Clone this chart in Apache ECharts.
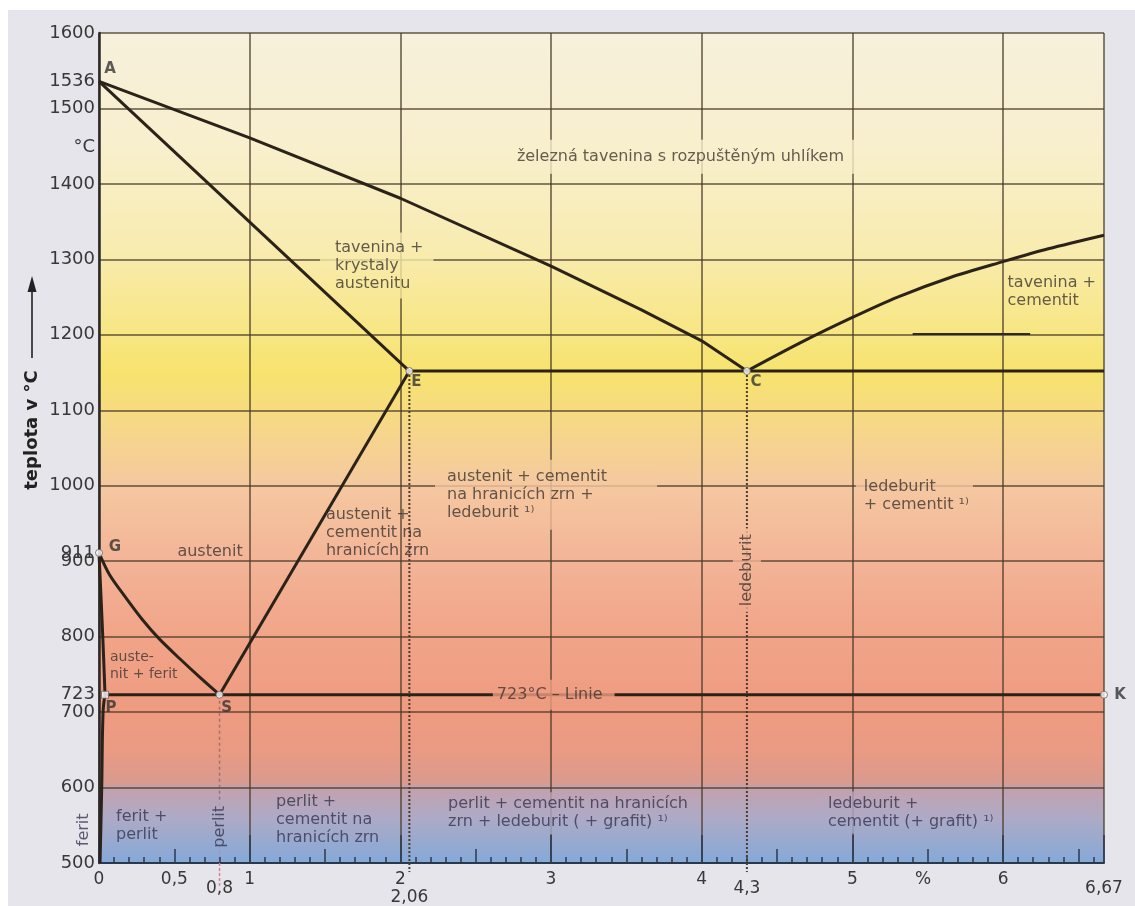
<!DOCTYPE html>
<html><head><meta charset="utf-8">
<script src="https://cdn.jsdelivr.net/npm/echarts@6.0.0/dist/echarts.min.js"></script>
<style>
html,body{margin:0;padding:0;background:#fff;width:1135px;height:906px;overflow:hidden}
#bg{position:absolute;left:8px;top:10px;width:1127px;height:896px;background:#e6e5ec}
#c{position:absolute;left:0;top:0;width:1135px;height:906px}
</style></head><body><div id="bg"></div><div id="c"></div>
<script>
// ---------------- DATA ----------------
const yTickValues = [500,600,700,723,800,900,911,1000,1100,1200,1300,1400,1500,1536,1600];
const yUnitPos = 1449;              // where "°C" sits on the temperature axis
const xLabelsRow1 = [0,0.5,1,2,3,4,5,6];
const xPercentPos = 5.47;           // where "%" sits on the carbon axis
const xLabelsRow2 = [0.8,4.3,6.67];
const xLabelsRow3 = [2.06];

const liquidusAC = [[0,1536],[1,1461],[2,1381],[3,1291],[3.6,1233],[4,1192],[4.3,1152]];
const solidusAE  = [[0,1536],[2.06,1152]];
const lineES     = [[0.8,723],[2.06,1152]];
const lineGS     = [[0,911],[0.07,882],[0.18,851],[0.29,822],[0.4,797],[0.54,770],[0.67,746],[0.8,723]];
const lineGP     = [[0,911],[0.025,800],[0.04,723]];
const linePQ     = [[0.04,723],[0.027,700],[0.018,600],[0.007,500]];
const lineECF    = [[2.06,1152],[6.67,1152]];
const lineCD     = [[4.3,1152],[4.65,1189],[5.0,1223],[5.3,1250],[5.65,1276],[6.0,1297],[6.3,1314],[6.67,1332]];
const linePSK    = [[0.04,723],[6.67,723]];
const strayLine  = [[5.40,1201],[6.18,1201]];
const dashE      = [[2.06,1152],[2.06,488]];
const dashC      = [[4.3,1152],[4.3,488]];
const dashS      = [[0.8,723],[0.8,500]];
const dashSBelow = [[0.8,500],[0.8,470]];

const pointMarks = [['G',0,911],['E',2.06,1152],['C',4.3,1152],['S',0.8,723],['K',6.67,723]];
const pointSquare = [['P',0.04,723]];
const pointNames = [['A',0,1536],['G',0,911],['E',2.06,1152],['C',4.3,1152],['P',0.04,723],['S',0.8,723],['K',6.67,723]];

const regionLabels = [
  ['železná tavenina s rozpuštěným uhlíkem', 2.707, 1436],
  ['tavenina +\nkrystaly\naustenitu', 1.467, 1292],
  ['tavenina +\ncementit', 6.03, 1257],
  ['austenit + cementit\nna hranicích zrn +\nledeburit ¹⁾', 2.23, 988],
  ['ledeburit\n+ cementit ¹⁾', 5.023, 986],
  ['austenit +\ncementit na\nhranicích zrn', 1.506, 937],
  ['austenit', 0.737, 912],
  ['auste-\nnit + ferit', 0.073, 761],
  ['ferit +\nperlit', 0.113, 549],
  ['perlit +\ncementit na\nhranicích zrn', 1.175, 557],
  ['perlit + cementit na hranicích\nzrn + ledeburit ( + grafit) ¹⁾', 2.263, 566],
  ['ledeburit +\ncementit (+ grafit) ¹⁾', 4.798, 567],
  ['ledeburit', 4.3, 888],
  ['perlit', 0.8, 548],
  ['ferit', -0.1, 544]
];
const lineLabel = ['723°C – Linie', 2.614, 723];

// ---------------- STYLE ----------------
const FONT = '"DejaVu Sans", sans-serif';
const PX_PER_DEG = 830 / 1100;
const bgStops = [
  [1600,'#f7f0dc'],[1450,'#f8efcd'],[1320,'#f8ecb2'],[1220,'#f8e78a'],[1150,'#f7e36e'],
  [1080,'#f6d888'],[1000,'#f5c8a0'],[900,'#f3b497'],[800,'#f1a488'],[700,'#ee9b80'],
  [650,'#ea9a83'],[606,'#d99a8f'],[600,'#c3a1ae'],[560,'#aeaac6'],[500,'#84a9d8']
];
const TXT = '#3f3632', TXT_B = '#363650';
const labelStyles = [
  {align:'left', pad:[8,14,8,10], box:true},
  {align:'left', pad:[6,10,6,15], box:true},
  {align:'left'},
  {align:'left', pad:[8,50,8,12], box:true},
  {align:'left', pad:[3,4,3,8], box:true},
  {align:'left'},
  {align:'center'},
  {align:'left', size:14, lh:17},
  {align:'left', color:TXT_B},
  {align:'left', color:TXT_B},
  {align:'left', pad:[3,8,3,8], box:true, color:TXT_B},
  {align:'left', pad:[3,8,3,6], box:true, color:TXT_B},
  {align:'center', rot:90, pad:[5,6], box:true},
  {align:'center', rot:90, pad:[4,6], box:true, color:TXT_B},
  {align:'center', rot:90, color:TXT_B}
];
const lineLabelStyle = {align:'left', pad:[6,12,6,4], box:true};
const nameOffsets = {A:[11,-12],G:[16,-6],E:[7,11],C:[9,11],P:[6,13],S:[7,13],K:[16,0]};

function hex2rgb(h){ h=h.replace('#',''); return [0,2,4].map(i=>parseInt(h.substr(i,2),16)); }
function mix(a,b,f){ const A=hex2rgb(a),B=hex2rgb(b); return 'rgb('+A.map((v,i)=>Math.round(v+(B[i]-v)*f)).join(',')+')'; }
function colorAt(t){
  for(let i=0;i<bgStops.length-1;i++){
    const [t0,c0]=bgStops[i],[t1,c1]=bgStops[i+1];
    if(t<=t0 && t>=t1){ return mix(c0,c1,t0===t1?0:(t0-t)/(t0-t1)); }
  }
  return t>1600?bgStops[0][1]:bgStops[bgStops.length-1][1];
}
const measureCtx = document.createElement('canvas').getContext('2d');
function textWidth(s,size){ measureCtx.font = size+'px '+FONT; return Math.max(...s.split('\n').map(l=>measureCtx.measureText(l).width)); }
function boxFill(t,hpx,rot){
  const half=hpx/2/PX_PER_DEG, tTop=t+half, tBot=t-half, stops=[];
  for(let i=0;i<=8;i++){ const f=i/8; stops.push({offset:f,color:colorAt(rot? tBot+(tTop-tBot)*f : tTop-(tTop-tBot)*f)}); }
  return {type:'linear',x:0,y:0,x2:rot?1:0,y2:rot?0:1,colorStops:stops,global:false};
}
function makeLabelItem(r, st){
  const size = st.size||16, lh = st.lh||18, lines = r[0].split('\n').length;
  const lbl = {show:true, position:[0,0], align:st.align, verticalAlign:'middle', formatter:r[0],
    fontFamily:FONT, fontSize:size, lineHeight:lh, color:st.color||TXT};
  if(st.rot) lbl.rotate = st.rot;
  if(st.pad) lbl.padding = st.pad;
  if(st.box){
    const p = st.pad.length===2?[st.pad[0],st.pad[1],st.pad[0],st.pad[1]]:st.pad;
    const h = st.rot ? textWidth(r[0],size)+p[1]+p[3] : lines*lh+p[0]+p[2];
    lbl.backgroundColor = boxFill(r[2], h, !!st.rot);
  }
  return {value:[r[1],r[2]], label:lbl};
}

const lineColor = '#2b2319';
function phase(data, smooth, extra){
  return Object.assign({type:'line', data, symbol:'none', smooth: smooth||false,
    lineStyle:{color:lineColor, width:3}, z:4, silent:true, clip:false, animation:false}, extra||{});
}
function dashed(data, color, width, dash){
  return {type:'line', data, symbol:'none', lineStyle:{color, width, type:dash}, z:2, silent:true, clip:false, animation:false};
}

const minorTicks=[], halfTicks=[], intTicks=[];
for(let i=0;i<=66;i++){ const v=i/10; if(i%5!==0) minorTicks.push(+v.toFixed(1)); else if(i%10!==0) halfTicks.push(+v.toFixed(1)); else intTicks.push(v); }
intTicks.push(6.67);

const fmtX = v => v===xPercentPos ? '%' : String(v).replace('.',',');
const axisTxt = {fontFamily:FONT, fontSize:17, color:'#383838'};
const tickColor = '#2c3850';
const gridColor = 'rgba(70,56,38,0.85)';
function xAxisBase(extra){
  return Object.assign({type:'value', min:0, max:6.67, position:'bottom', gridIndex:0,
    axisLine:{show:false}, splitLine:{show:false}}, extra);
}

const option = {
  animation:false,
  grid:{left:99, top:33, width:1005, height:830, show:true, borderWidth:0, outerBoundsMode:'none',
    backgroundColor:{type:'linear',x:0,y:0,x2:0,y2:1,
      colorStops:bgStops.map(([t,c])=>({offset:(1600-t)/1100,color:c}))}},
  xAxis:[
    xAxisBase({interval:1, axisLine:{show:true,onZero:false,lineStyle:{color:tickColor,width:2}},
      axisTick:{show:false}, axisLabel:{show:false},
      splitLine:{show:true,lineStyle:{color:gridColor,width:1.5}}}),
    xAxisBase({axisTick:{show:true,inside:true,length:6,customValues:minorTicks,lineStyle:{color:tickColor,width:1.5}},
      axisLabel:Object.assign({show:true,customValues:xLabelsRow1.concat([xPercentPos]),margin:8,formatter:fmtX},axisTxt)}),
    xAxisBase({axisTick:{show:true,inside:true,length:14,customValues:halfTicks,lineStyle:{color:tickColor,width:1.5}},
      axisLabel:Object.assign({show:true,customValues:xLabelsRow2,margin:17,formatter:fmtX},axisTxt)}),
    xAxisBase({axisTick:{show:true,inside:true,length:28,customValues:intTicks,lineStyle:{color:tickColor,width:1.5}},
      axisLabel:Object.assign({show:true,customValues:xLabelsRow3,margin:26,formatter:fmtX},axisTxt)})
  ],
  yAxis:[
    {type:'value', min:500, max:1600, interval:100, position:'left',
      axisLine:{show:true,onZero:false,lineStyle:{color:'#2a2a2a',width:2.5}}, axisTick:{show:false},
      axisLabel:{show:false}, splitLine:{show:true,lineStyle:{color:gridColor,width:1.5}}},
    {type:'value', min:500, max:1600, position:'left', axisLine:{show:false}, axisTick:{show:false},
      splitLine:{show:false},
      axisLabel:Object.assign({show:true,customValues:yTickValues.concat([yUnitPos]),margin:4,
        formatter:v=> v===yUnitPos?'°C':String(v)},axisTxt,{fontSize:18})}
  ],
  graphic:[
    {type:'text', x:32, y:430, rotation:Math.PI/2,
      style:{text:'teplota v °C', font:'bold 18px '+FONT, fill:'#222', align:'center', verticalAlign:'middle'}},
    {type:'line', shape:{x1:32,y1:358,x2:32,y2:290}, style:{stroke:'#222',lineWidth:1.6}},
    {type:'polygon', shape:{points:[[32,276],[27.5,292],[36.5,292]]}, style:{fill:'#222'}}
  ],
  series:[
    dashed(dashE,'#4a3c2c',2,[2,2]),
    dashed(dashC,'#4a3c2c',2,[2,2]),
    dashed(dashS,'rgba(110,80,85,0.55)',1.5,[3,3]),
    dashed(dashSBelow,'#d98090',1.5,[3,2]),
    {type:'scatter', symbolSize:0, z:3, silent:true, clip:false,
      data:regionLabels.map((r,i)=>makeLabelItem(r,labelStyles[i]))},
    phase(liquidusAC,false),
    phase(solidusAE),
    phase(lineES),
    phase(lineGS,0.3),
    phase(lineGP,0.3),
    phase(linePQ,0.4),
    phase(lineECF),
    phase(lineCD,0.3),
    phase(linePSK),
    phase(strayLine,false,{lineStyle:{color:'#2e2a28',width:2}}),
    {type:'scatter', symbolSize:0, z:5, silent:true, clip:false,
      data:[makeLabelItem(lineLabel,lineLabelStyle)]},
    {type:'scatter', data:pointMarks.map(p=>[p[1],p[2]]), symbol:'circle', symbolSize:7,
      itemStyle:{color:'#ffffff',borderColor:'#6a6060',borderWidth:1}, z:6, silent:true, clip:false},
    {type:'scatter', data:pointSquare.map(p=>[p[1],p[2]]), symbol:'rect', symbolSize:7,
      itemStyle:{color:'#ffffff',borderColor:'#6a6060',borderWidth:1}, z:6, silent:true, clip:false},
    {type:'scatter', symbolSize:0, z:7, silent:true, clip:false,
      data:pointNames.map(p=>({value:[p[1],p[2]],
        label:{show:true, position:nameOffsets[p[0]], align:'center', verticalAlign:'middle',
          formatter:p[0], fontFamily:FONT, fontWeight:'bold', fontSize:15, color:'#333333'}}))}
  ]
};
const chart = echarts.init(document.getElementById('c'), null, {renderer:'canvas'});
chart.setOption(option);
</script></body></html>
